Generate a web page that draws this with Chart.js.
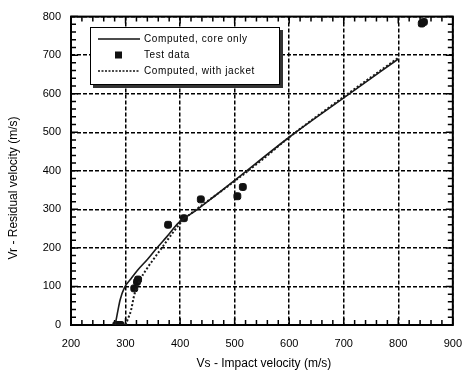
<!DOCTYPE html>
<html>
<head>
<meta charset="utf-8">
<script src="https://cdn.jsdelivr.net/npm/chart.js@4"></script>
<style>
  html, body { margin: 0; padding: 0; background: #fff; }
  #wrap { width: 474px; height: 373px; }
</style>
</head>
<body>
<div id="wrap"><canvas id="chart" width="474" height="373"></canvas></div>
<script>
// curve: computed, core only
const coreX = [281, 285, 290, 298, 310, 322, 340, 357, 375, 398, 428, 463, 500, 600, 700, 800];
const coreY = [0, 30, 65, 97, 120, 142, 170, 199, 228, 266, 296, 334, 375, 487, 589, 690];
// curve: computed, with jacket
const jacketX = [300, 305, 310, 316, 325, 340, 351, 369, 387, 404, 430, 451, 480, 550, 600, 700, 800];
const jacketY = [0, 18, 38, 78, 112, 148, 170, 205, 240, 270, 300, 322, 352, 428, 487, 592, 693];
// test points
const testX = [283, 287, 291, 316, 321, 323, 378, 407, 438, 505, 515, 843, 847];
const testY = [0, 0, 0, 95, 112, 118, 260, 277, 326, 334, 358, 782, 786];

const xTicks = [200, 300, 400, 500, 600, 700, 800, 900];
const yTicks = [0, 100, 200, 300, 400, 500, 600, 700, 800];

const labels = ['Computed, core only', 'Test data', 'Computed, with jacket'];
const font = 'Liberation Sans, Arial, sans-serif';

function pts(xs, ys) { return xs.map((x, i) => ({ x: x, y: ys[i] })); }

// frame, inward minor ticks, legend and axis titles
const decor = {
  id: 'decor',
  beforeDatasetsDraw(chart) {
    const { ctx, chartArea: a, scales } = chart;
    const xs = scales.x, ys = scales.y;
    ctx.save();
    ctx.strokeStyle = '#000';
    ctx.lineWidth = 1.5;
    ctx.beginPath();
    for (let v = xTicks[0]; v <= xTicks[xTicks.length - 1]; v += 20) {
      const px = xs.getPixelForValue(v);
      const len = v % 100 === 0 ? 7 : 5;
      ctx.moveTo(px, a.bottom); ctx.lineTo(px, a.bottom - len);
      ctx.moveTo(px, a.top); ctx.lineTo(px, a.top + len);
    }
    for (let v = yTicks[0]; v <= yTicks[yTicks.length - 1]; v += 20) {
      const py = ys.getPixelForValue(v);
      const len = v % 100 === 0 ? 7 : 5;
      ctx.moveTo(a.left, py); ctx.lineTo(a.left + len, py);
      ctx.moveTo(a.right, py); ctx.lineTo(a.right - len, py);
    }
    ctx.stroke();
    ctx.lineWidth = 2;
    ctx.strokeRect(a.left, a.top, a.right - a.left, a.bottom - a.top);
    ctx.restore();
  },
  afterDraw(chart) {
    const { ctx, chartArea: a } = chart;
    ctx.save();
    // legend box with shadow
    const bx = 90, by = 27, bw = 190, bh = 58;
    ctx.fillStyle = '#333';
    ctx.fillRect(bx + 3, by + 3, bw, bh);
    ctx.fillStyle = '#fff';
    ctx.fillRect(bx, by, bw, bh);
    ctx.strokeStyle = '#000';
    ctx.lineWidth = 1;
    ctx.strokeRect(bx + 0.5, by + 0.5, bw - 1, bh - 1);
    ctx.font = '10px ' + font;
    ctx.fillStyle = '#000';
    ctx.textBaseline = 'middle';
    ctx.textAlign = 'left';
    if ('letterSpacing' in ctx) ctx.letterSpacing = '0.6px';
    const rows = [by + 12, by + 28, by + 44];
    // solid
    ctx.strokeStyle = '#111';
    ctx.lineWidth = 1.5;
    ctx.beginPath(); ctx.moveTo(bx + 8, rows[0]); ctx.lineTo(bx + 50, rows[0]); ctx.stroke();
    // square
    ctx.fillStyle = '#111';
    ctx.fillRect(bx + 25, rows[1] - 3.5, 7, 7);
    // dotted
    ctx.setLineDash([2, 1.5]);
    ctx.beginPath(); ctx.moveTo(bx + 8, rows[2]); ctx.lineTo(bx + 50, rows[2]); ctx.stroke();
    ctx.setLineDash([]);
    ctx.fillStyle = '#000';
    ctx.fillText(labels[0], bx + 54, rows[0]);
    ctx.fillText(labels[1], bx + 54, rows[1]);
    ctx.fillText(labels[2], bx + 54, rows[2]);
    // axis titles
    if ('letterSpacing' in ctx) ctx.letterSpacing = '0px';
    ctx.font = '12px ' + font;
    ctx.textAlign = 'center';
    ctx.fillText('Vs - Impact velocity (m/s)', (a.left + a.right) / 2 + 2, 364);
    ctx.translate(14, 188);
    ctx.rotate(-Math.PI / 2);
    ctx.fillText('Vr - Residual velocity (m/s)', 0, 0);
    ctx.restore();
  }
};

new Chart(document.getElementById('chart'), {
  type: 'scatter',
  data: {
    datasets: [
      {
        label: labels[0],
        data: pts(coreX, coreY),
        showLine: true,
        borderColor: '#1a1a1a',
        borderWidth: 1.6,
        pointRadius: 0,
        cubicInterpolationMode: 'monotone'
      },
      {
        label: labels[2],
        data: pts(jacketX, jacketY),
        showLine: true,
        borderColor: '#1a1a1a',
        borderWidth: 2,
        borderDash: [2, 2],
        pointRadius: 0,
        cubicInterpolationMode: 'monotone'
      },
      {
        label: labels[1],
        data: pts(testX, testY),
        showLine: false,
        pointStyle: 'rectRounded',
        pointRadius: 4,
        backgroundColor: '#111',
        borderColor: '#111',
        borderWidth: 1
      }
    ]
  },
  options: {
    responsive: false,
    animation: false,
    layout: { padding: { top: 10, right: 7, left: 0, bottom: 0 } },
    plugins: { legend: { display: false }, tooltip: { enabled: false } },
    scales: {
      x: {
        type: 'linear',
        min: xTicks[0],
        max: xTicks[xTicks.length - 1],
        afterBuildTicks(scale) { scale.ticks = xTicks.map(v => ({ value: v })); },
        afterFit(scale) { scale.height = 48; },
        border: { display: false, dash: [4, 2] },
        grid: { color: '#000', lineWidth: 1.5, drawTicks: false },
        ticks: { color: '#000', padding: 12, font: { family: font, size: 11 }, maxRotation: 0 }
      },
      y: {
        type: 'linear',
        min: yTicks[0],
        max: yTicks[yTicks.length - 1],
        afterBuildTicks(scale) { scale.ticks = yTicks.map(v => ({ value: v })); },
        afterFit(scale) { scale.width = 71; },
        border: { display: false, dash: [4, 2] },
        grid: { color: '#000', lineWidth: 1.5, drawTicks: false },
        ticks: { color: '#000', padding: 10, font: { family: font, size: 11 } }
      }
    }
  },
  plugins: [decor]
});
</script>
</body>
</html>
